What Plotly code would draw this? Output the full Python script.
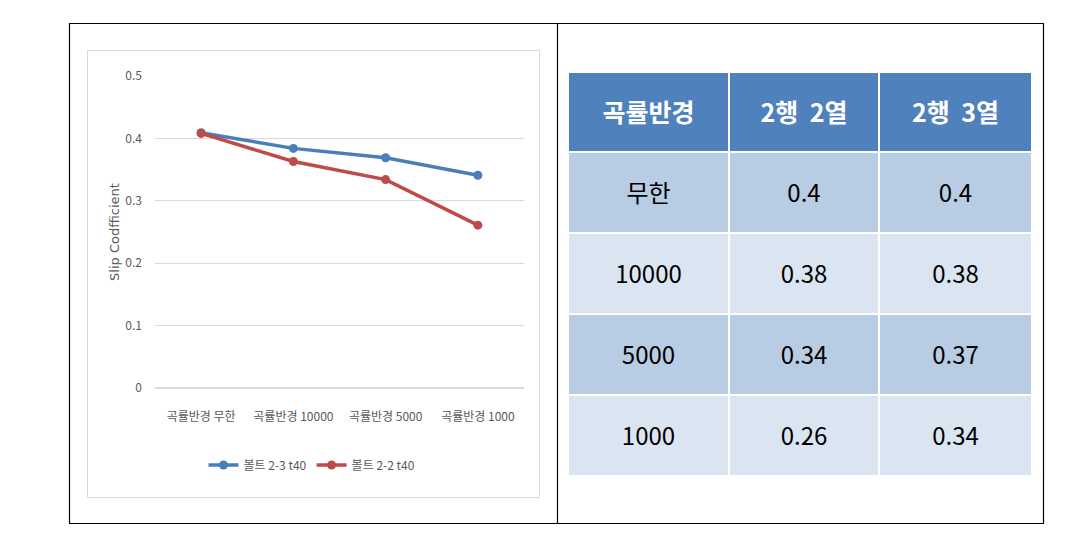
import plotly.graph_objects as go

W, H = 1065, 534

categories = ["곡률반경 무한", "곡률반경 10000", "곡률반경 5000", "곡률반경 1000"]
series_23 = [0.409, 0.384, 0.369, 0.341]
series_22 = [0.408, 0.363, 0.334, 0.261]
series_names = ["볼트 2-3 t40", "볼트 2-2 t40"]

table_header = ["곡률반경", "2행  2열", "2행  3열"]
table_radius = ["무한", "10000", "5000", "1000"]
table_22 = ["0.4", "0.38", "0.34", "0.26"]
table_23 = ["0.4", "0.38", "0.37", "0.34"]

y_ticks = [0, 0.1, 0.2, 0.3, 0.4, 0.5]
y_tick_text = ["0", "0.1", "0.2", "0.3", "0.4", "0.5"]

BLUE = "#4A7EBB"
RED = "#BE4B48"
FONT = "Noto Sans CJK KR"

def px(x):
    return x / W

def py(y):
    return 1 - y / H

def cell_text(v, size, bold=False):
    inner = "<b>%s</b>" % v if bold else v
    return "&nbsp;<br><span style='font-size:%dpx'>%s</span>" % (size, inner)

fig = go.Figure()

fig.add_trace(go.Scatter(
    x=categories, y=series_23, name=series_names[0], mode="lines+markers",
    line=dict(color=BLUE, width=3.5), marker=dict(color=BLUE, size=9, symbol="circle"),
    xaxis="x", yaxis="y"))
fig.add_trace(go.Scatter(
    x=categories, y=series_22, name=series_names[1], mode="lines+markers",
    line=dict(color=RED, width=3.5), marker=dict(color=RED, size=9, symbol="circle"),
    xaxis="x", yaxis="y"))

n = len(table_radius)
row_colors = ["#B8CCE4" if i % 2 == 0 else "#DBE5F1" for i in range(n)]

fig.add_trace(go.Table(
    domain=dict(x=[px(568), px(1032)], y=[py(476), py(72)]),
    columnwidth=[161, 150, 153],
    header=dict(
        values=[cell_text(h, 25, bold=True) for h in table_header],
        fill_color="#4F81BD", line=dict(color="white", width=2),
        font=dict(family=FONT, size=17, color="white"), align="center", height=80),
    cells=dict(
        values=[[cell_text(v, 24) for v in table_radius],
                [cell_text(v, 24) for v in table_22],
                [cell_text(v, 24) for v in table_23]],
        fill_color=[row_colors] * 3, line=dict(color="white", width=2),
        font=dict(family=FONT, size=17, color="black"), align="center", height=81),
))

shapes = [
    dict(type="rect", xref="paper", yref="paper", x0=px(69.5), x1=px(1043.5), y0=py(523.5), y1=py(23.5),
         line=dict(color="black", width=1.2), layer="below"),
    dict(type="line", xref="paper", yref="paper", x0=px(557.5), x1=px(557.5), y0=py(523.5), y1=py(23.5),
         line=dict(color="black", width=1.2)),
    dict(type="rect", xref="paper", yref="paper", x0=px(87.5), x1=px(539.5), y0=py(497.5), y1=py(50.5),
         line=dict(color="#D9D9D9", width=1), layer="below"),
]

fig.update_layout(
    width=W, height=H,
    margin=dict(l=0, r=0, t=0, b=0, autoexpand=False),
    paper_bgcolor="white", plot_bgcolor="white",
    font=dict(family=FONT, color="#595959"),
    shapes=shapes,
    showlegend=True,
    legend=dict(orientation="h", x=px(312), xanchor="center", y=py(465), yanchor="middle",
                font=dict(family=FONT, size=12, color="#595959"), bgcolor="rgba(0,0,0,0)",
                itemwidth=30, tracegroupgap=0),
    xaxis=dict(domain=[px(155), px(524)], range=[-0.5, 3.5], type="category",
               showgrid=False, showline=False, zeroline=False, ticks="", automargin=False,
               ticklabelstandoff=20,
               tickfont=dict(family=FONT, size=12, color="#595959"), anchor="y"),
    yaxis=dict(domain=[py(388), py(76)], range=[0, 0.5], tickvals=y_ticks, ticktext=y_tick_text,
               showgrid=True, gridcolor="#D9D9D9", gridwidth=1, zeroline=True, zerolinecolor="#D9D9D9",
               zerolinewidth=1.5, showline=False, ticks="", ticklabelstandoff=12, automargin=False,
               tickfont=dict(family=FONT, size=12, color="#595959"),
               title=dict(text="Slip Codfficient", font=dict(family="DejaVu Sans", size=13, color="#595959"),
                          standoff=2), anchor="x"),
)

fig.write_html("out.html")
